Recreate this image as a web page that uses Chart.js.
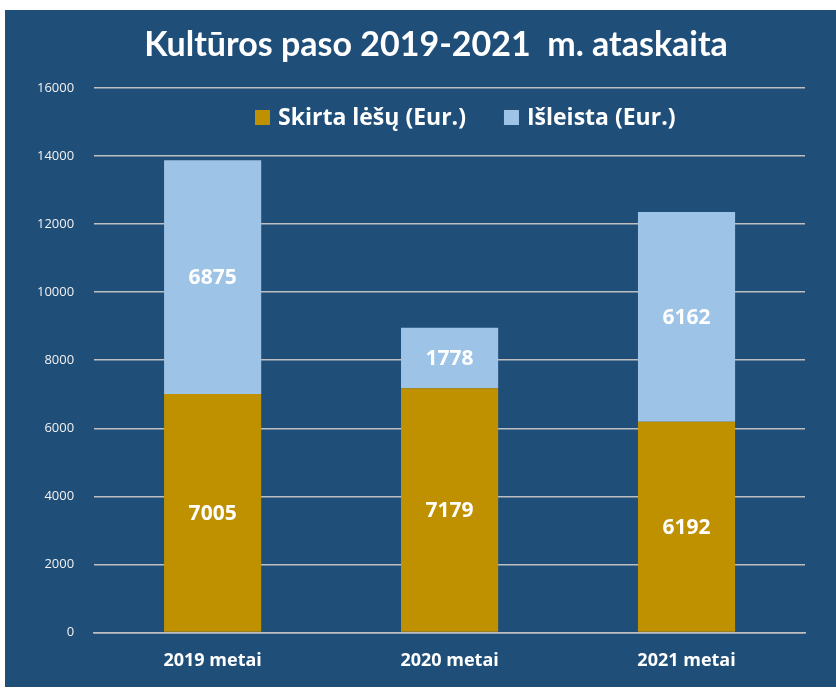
<!DOCTYPE html>
<html lang="lt">
<head>
	<meta charset="utf-8">
	<title>Kultūros paso 2019-2021 m. ataskaita</title>
	<script src="https://cdn.jsdelivr.net/npm/chart.js"></script>
	<style>
		html, body { margin: 0; padding: 0; background: #ffffff; }
		#wrap { width: 836px; height: 696px; }
	</style>
</head>
<body>
	<div id="wrap"><canvas id="chart" width="836" height="696"></canvas></div>
	<script type="text/javascript">

		const years = ['2019 metai', '2020 metai', '2021 metai']
		const skirta = [7005, 7179, 6192]
		const isleista = [6875, 1778, 6162]
		const yTicks = [0, 2000, 4000, 6000, 8000, 10000, 12000, 14000, 16000]
		const titleText = 'Kultūros paso 2019-2021  m. ataskaita'

		const panelBlue = '#1f4e79'
		const gold = '#bf9000'
		const lightBlue = '#9dc3e6'

		// blue panel behind everything, leaves a thin white margin like the screenshot
		// title drawn here too so it can sit a bit right of centre
		const panelBg = {
			id: 'panelBg',
			beforeDraw(chart) {
				const ctx = chart.ctx
				ctx.save()
				ctx.fillStyle = panelBlue
				ctx.fillRect(5, 10, chart.width - 5, 677)
				ctx.fillStyle = '#ffffff'
				ctx.font = 'bold 34px Lato'
				ctx.textAlign = 'center'
				ctx.textBaseline = 'alphabetic'
				ctx.fillText(titleText, 436, 56)
				ctx.restore()
			}
		}

		// legend sits inside the plot area, so draw it by hand
		const innerLegend = {
			id: 'innerLegend',
			afterDraw(chart) {
				const ctx = chart.ctx
				ctx.save()
				ctx.font = 'bold 23px "Open Sans"'
				ctx.textBaseline = 'middle'
				let x = 255
				const y = 117
				chart.data.datasets.forEach((ds, i) => {
					ctx.fillStyle = ds.backgroundColor
					ctx.fillRect(x, y - 7, 15, 15)
					ctx.fillStyle = '#ffffff'
					ctx.fillText(ds.label, x + 23, y + 1)
					x += 23 + ctx.measureText(ds.label).width + 38
				})
				ctx.restore()
			}
		}

		// white numbers in the middle of every segment
		const segLabels = {
			id: 'segLabels',
			afterDatasetsDraw(chart) {
				const ctx = chart.ctx
				ctx.save()
				ctx.font = 'bold 21px "Open Sans"'
				ctx.fillStyle = '#ffffff'
				ctx.textAlign = 'center'
				ctx.textBaseline = 'middle'
				chart.data.datasets.forEach((ds, i) => {
					chart.getDatasetMeta(i).data.forEach((bar, j) => {
						const mid = (bar.y + bar.base) / 2
						ctx.fillText(ds.data[j], bar.x, mid + 1)
					})
				})
				ctx.restore()
			}
		}

		new Chart(document.getElementById('chart'), {
			type: 'bar',
			data: {
				labels: years,
				datasets: [
					{ label: 'Skirta lėšų (Eur.)', data: skirta, backgroundColor: gold },
					{ label: 'Išleista (Eur.)', data: isleista, backgroundColor: lightBlue }
				]
			},
			options: {
				responsive: false,
				animation: false,
				events: [],
				layout: { padding: { left: 17, right: 31, top: 88, bottom: 6 } },
				datasets: { bar: { categoryPercentage: 1, barPercentage: 0.41 } },
				plugins: {
					legend: { display: false },
					tooltip: { enabled: false },
					title: { display: false }
				},
				scales: {
					x: {
						stacked: true,
						grid: { display: false, drawTicks: false },
						border: { color: '#bfbfbf', width: 1.5 },
						ticks: {
							color: '#ffffff',
							padding: 18,
							font: { family: 'Open Sans', size: 18, weight: 'bold' }
						}
					},
					y: {
						stacked: true,
						min: 0,
						max: 16000,
						afterBuildTicks(axis) { axis.ticks = yTicks.map(v => ({ value: v })) },
						grid: { color: '#bfbfbf', lineWidth: 1.5, drawTicks: false },
						border: { display: false },
						ticks: {
							color: '#f2f2f2',
							padding: 20,
							font: { family: 'Open Sans', size: 13 },
							callback: v => String(v)
						}
					}
				}
			},
			plugins: [panelBg, innerLegend, segLabels]
		})
	</script>
</body>
</html>
